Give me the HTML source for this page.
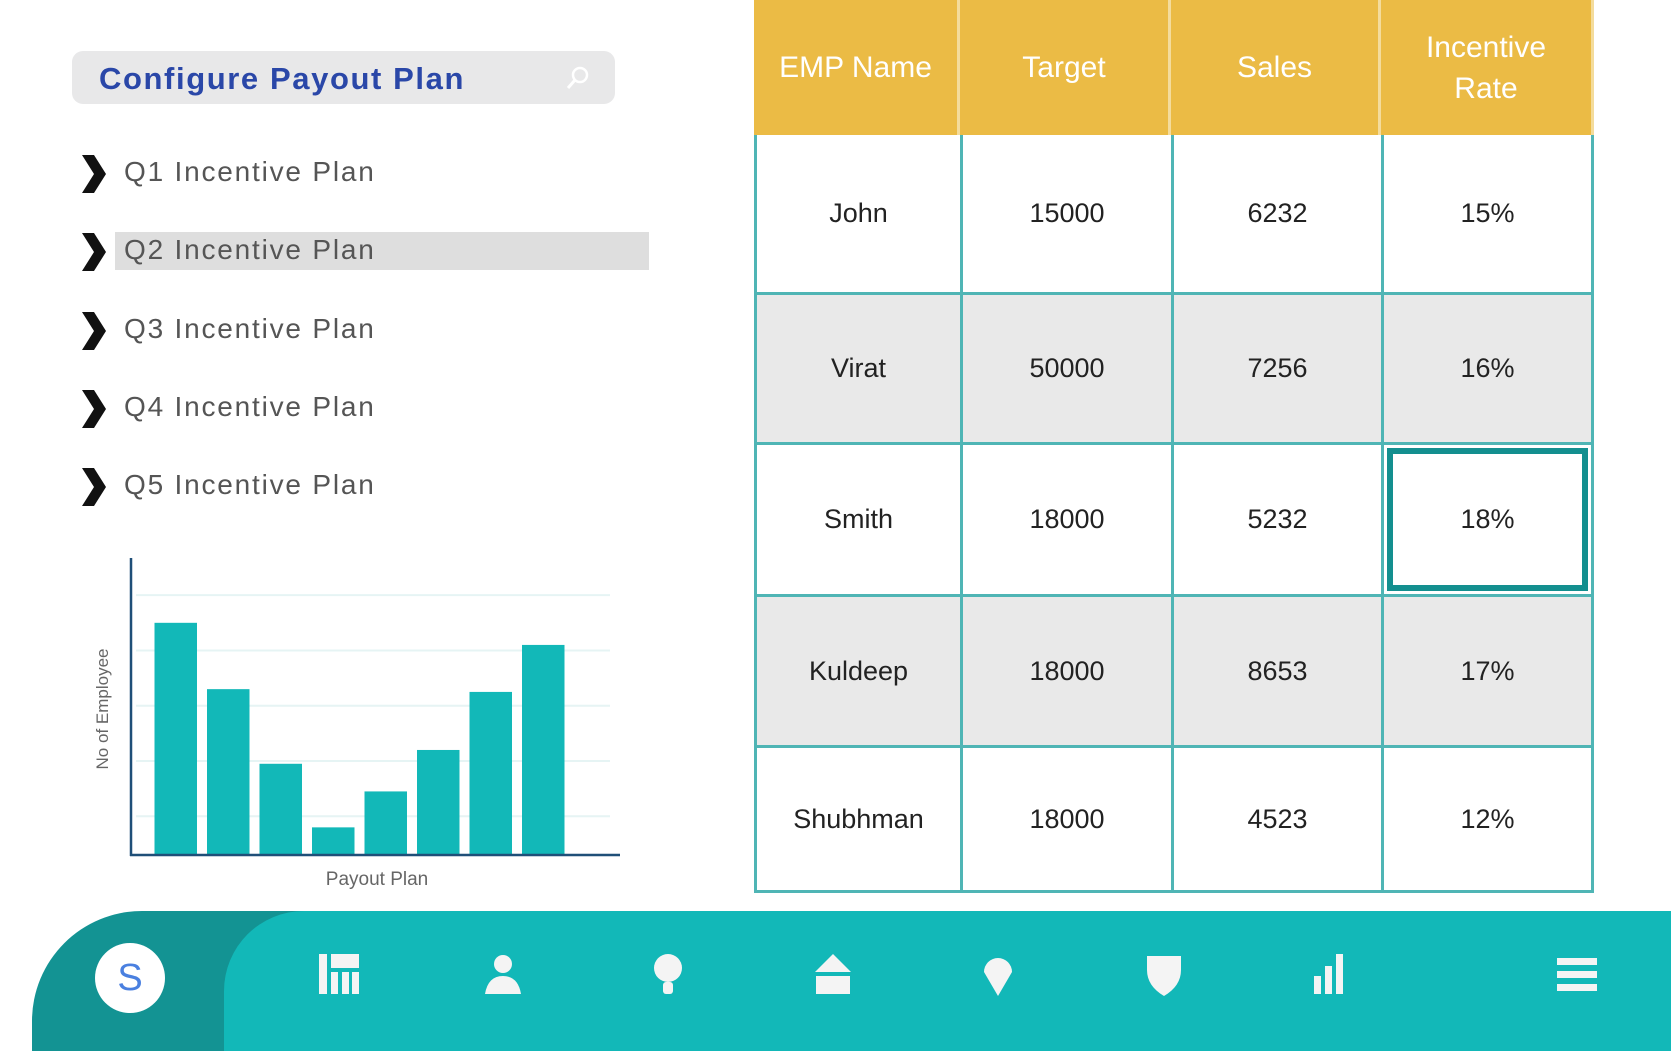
<!DOCTYPE html>
<html><head><meta charset="utf-8">
<style>
*{margin:0;padding:0;box-sizing:border-box}
body{width:1671px;height:1031px;background:#fff;position:relative;overflow:hidden;font-family:"Liberation Sans",sans-serif}
.abs{position:absolute}
#search{left:72px;top:51px;width:543px;height:53px;background:#e8e8e9;border-radius:11px}
#search .t{position:absolute;left:27px;top:10px;font-size:31px;font-weight:bold;color:#2a47a8;letter-spacing:1.6px}
.item{position:absolute;left:80px;height:40px;font-size:28px;color:#555;letter-spacing:1.8px}
.item .chev{position:absolute;left:0;top:2px;width:28px;height:42px}
.item .lbl{position:absolute;left:44px;top:5px;white-space:nowrap}
#hl{left:115px;top:232px;width:534px;height:38px;background:#dedede}
#table{left:754px;top:0;width:840px;height:893px;display:grid;grid-template-columns:206px 211px 210px 213px;grid-template-rows:135px 160px 150px 152px 151px 145px;font-family:"Liberation Sans Narrow","Liberation Sans",sans-serif}
.h{background:#ebbb45;color:#fff;font-size:30px;display:flex;align-items:center;justify-content:center;text-align:center;line-height:41px;border-right:3px solid #f4dc9c}
.h:last-child{border-right:none}
.c{display:flex;align-items:center;justify-content:center;font-size:27px;color:#222;border-left:3px solid #4fb5b5;border-bottom:3px solid #4fb5b5}
.c.last{border-right:3px solid #4fb5b5}
.g{background:#e9e9e9}
.sel{box-shadow:inset 0 0 0 3px #fff, inset 0 0 0 9px #138f8f}
#bar-dark{left:32px;top:911px;width:400px;height:140px;background:#139393;border-top-left-radius:110px}
#bar-main{left:224px;top:911px;width:1460px;height:140px;background:#12b8b8;border-top-left-radius:80px}
#avatar{left:95px;top:943px;width:70px;height:70px;border-radius:50%;background:#fff;color:#4a80e0;font-size:38px;display:flex;align-items:center;justify-content:center}
.ic{position:absolute;top:952px;width:46px;height:46px}
</style></head><body>
<div id="search" class="abs"><span class="t">Configure Payout Plan</span>
<svg class="abs" style="left:490px;top:12px" width="30" height="30"><circle cx="18" cy="12" r="7" fill="none" stroke="#fff" stroke-width="2.5"/><line x1="13" y1="17" x2="6" y2="25" stroke="#fff" stroke-width="3"/></svg></div>

<div id="hl" class="abs"></div>
<div class="item" style="top:151px"><svg class="chev" viewBox="0 0 28 42"><path d="M2 2 L14 2 L26 21 L14 40 L2 40 L14 21Z" fill="#111"/></svg><span class="lbl">Q1 Incentive Plan</span></div>
<div class="item" style="top:229px"><svg class="chev" viewBox="0 0 28 42"><path d="M2 2 L14 2 L26 21 L14 40 L2 40 L14 21Z" fill="#111"/></svg><span class="lbl">Q2 Incentive Plan</span></div>
<div class="item" style="top:308px"><svg class="chev" viewBox="0 0 28 42"><path d="M2 2 L14 2 L26 21 L14 40 L2 40 L14 21Z" fill="#111"/></svg><span class="lbl">Q3 Incentive Plan</span></div>
<div class="item" style="top:386px"><svg class="chev" viewBox="0 0 28 42"><path d="M2 2 L14 2 L26 21 L14 40 L2 40 L14 21Z" fill="#111"/></svg><span class="lbl">Q4 Incentive Plan</span></div>
<div class="item" style="top:464px"><svg class="chev" viewBox="0 0 28 42"><path d="M2 2 L14 2 L26 21 L14 40 L2 40 L14 21Z" fill="#111"/></svg><span class="lbl">Q5 Incentive Plan</span></div>

<svg id="chart" class="abs" style="left:0;top:540px" width="700" height="370"></svg>

<div id="table" class="abs">
<div class="h">EMP Name</div>
<div class="h">Target</div>
<div class="h">Sales</div>
<div class="h">Incentive<br>Rate</div>
<div class="c">John</div><div class="c">15000</div><div class="c">6232</div><div class="c last">15%</div>
<div class="c g">Virat</div><div class="c g">50000</div><div class="c g">7256</div><div class="c g last">16%</div>
<div class="c">Smith</div><div class="c">18000</div><div class="c">5232</div><div class="c last sel">18%</div>
<div class="c g">Kuldeep</div><div class="c g">18000</div><div class="c g">8653</div><div class="c g last">17%</div>
<div class="c">Shubhman</div><div class="c">18000</div><div class="c">4523</div><div class="c last">12%</div>
</div>

<div id="bar-dark" class="abs"></div>
<div id="bar-main" class="abs"></div>
<div id="avatar" class="abs">S</div>
<svg class="ic" style="left:316px" viewBox="0 0 46 46"><rect x="3" y="2" width="8" height="40" fill="#f4f4f4"/><rect x="15" y="2" width="28" height="14" fill="#f4f4f4"/><rect x="15" y="20" width="7" height="22" fill="#f4f4f4"/><rect x="26" y="20" width="7" height="22" fill="#f4f4f4"/><rect x="36" y="20" width="7" height="22" fill="#f4f4f4"/></svg>
<svg class="ic" style="left:480px" viewBox="0 0 46 46"><circle cx="23" cy="12" r="9" fill="#f4f4f4"/><path d="M5 42 Q8 24 23 24 Q38 24 41 42Z" fill="#f4f4f4"/></svg>
<svg class="ic" style="left:645px" viewBox="0 0 46 46"><circle cx="23" cy="16" r="14" fill="#f4f4f4"/><rect x="18" y="30" width="10" height="12" rx="3" fill="#f4f4f4"/></svg>
<svg class="ic" style="left:810px" viewBox="0 0 46 46"><path d="M23 2 L41 20 L5 20Z" fill="#f4f4f4"/><rect x="6" y="24" width="34" height="18" fill="#f4f4f4"/></svg>
<svg class="ic" style="left:975px" viewBox="0 0 46 46"><path d="M23 44 L9 20 A14 14 0 1 1 37 20Z" fill="#f4f4f4"/></svg>
<svg class="ic" style="left:1141px" viewBox="0 0 46 46"><path d="M6 4 L40 4 L40 18 Q40 34 23 44 Q6 34 6 18Z" fill="#f4f4f4"/></svg>
<svg class="ic" style="left:1306px" viewBox="0 0 46 46"><rect x="8" y="24" width="7" height="18" fill="#f4f4f4"/><rect x="19" y="14" width="7" height="28" fill="#f4f4f4"/><rect x="30" y="2" width="7" height="40" fill="#f4f4f4"/></svg>
<svg class="ic" style="left:1554px" viewBox="0 0 46 46"><rect x="3" y="6" width="40" height="7" fill="#f4f4f4"/><rect x="3" y="19" width="40" height="7" fill="#f4f4f4"/><rect x="3" y="32" width="40" height="7" fill="#f4f4f4"/></svg>

<script>
const categories=["P1","P2","P3","P4","P5","P6","P7","P8"];
const employees=[42,30,16.5,5,11.5,19,29.5,38];
const gridTicks=[7,17,27,37,47];
const yMax=53;
const NS="http://www.w3.org/2000/svg";
const chartSvg=document.getElementById('chart');
const ox=131, oy=315, topY=22, xEnd=620;
const plotH=oy-topY;
function yScale(v){return oy-v/yMax*plotH;}
function xScale(i){return 154.5+i*52.5;}
function mk(t,a){const e=document.createElementNS(NS,t);for(const k in a)e.setAttribute(k,a[k]);chartSvg.appendChild(e);return e;}
gridTicks.forEach(v=>{const l=mk('line',{x1:136,x2:610,y1:yScale(v),y2:yScale(v),stroke:'#e6f4f4','stroke-width':2});

});
categories.forEach((c,i)=>{const r=mk('rect',{x:xScale(i),y:yScale(employees[i]),width:42.5,height:oy-yScale(employees[i]),fill:'#12b8b8'});

});
const ya=mk('line',{x1:ox,x2:ox,y1:topY-4,y2:oy+1,stroke:'#1f4f78','stroke-width':2.5});


const xa=mk('line',{x1:ox-1,x2:xEnd,y1:oy,y2:oy,stroke:'#1f4f78','stroke-width':2.5});


const yt=mk('text',{x:0,y:0,transform:'translate(108,169) rotate(-90)','text-anchor':'middle','font-size':17,fill:'#666','font-family':'Liberation Sans, sans-serif'});
yt.textContent='No of Employee';


const xt=mk('text',{x:377,y:345,'text-anchor':'middle','font-size':19,fill:'#666','font-family':'Liberation Sans, sans-serif'});
xt.textContent='Payout Plan';


</script>
</body></html>
